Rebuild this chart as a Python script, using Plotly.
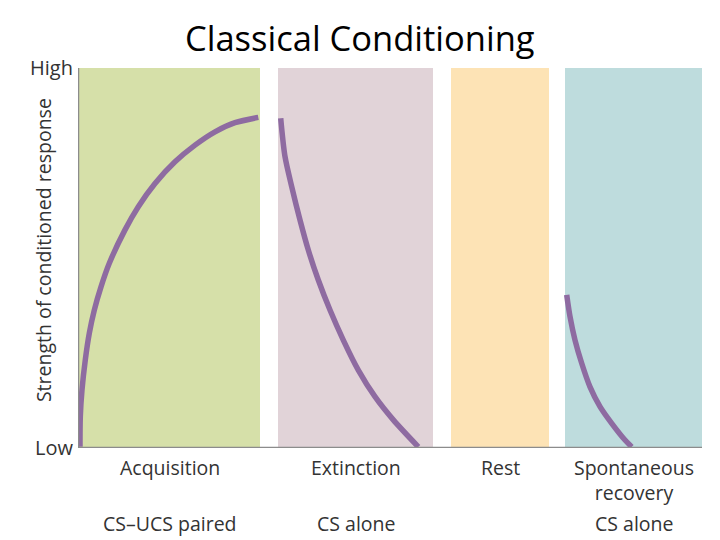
import plotly.graph_objects as go

# ---- data ----
phase_names = ["Acquisition", "Extinction", "Rest", "Spontaneous<br>recovery"]
phase_conditions = ["CS–UCS paired", "CS alone", "", "CS alone"]
phase_start = [1, 200, 373, 487]
phase_end = [182, 355, 471, 624]
phase_colors = ["#d6e0a9", "#e1d3d8", "#fde3b5", "#bedcdd"]

acq_x = [2, 2.3, 4, 7.3, 11.3, 16.3, 23, 31.3, 47, 60.3, 77, 97, 117, 137, 157, 180.3]
acq_y = [0.3, 8.2, 15.3, 23.2, 30.2, 36.3, 42.4, 48.6, 57.4, 63.5, 69.6, 75.3, 79.7, 83.2, 85.6, 87.0]

ext_x = [202.7, 207, 213.7, 222, 230.3, 240.3, 252, 265.3, 280.3, 297, 315.3, 340.3]
ext_y = [86.8, 76.7, 68.8, 60.0, 52.1, 44.2, 36.3, 28.4, 20.5, 13.5, 7.4, 0.3]

rec_x = [488.7, 492, 497, 503.7, 512, 522, 533.7, 547, 553.7]
rec_y = [40.3, 34.6, 28.4, 22.3, 16.1, 10.9, 6.5, 2.1, 0.3]

y_ticks = [0, 100]
y_ticktext = ["Low", "High"]

line_color = "#8e6ba1"
txt_font = "Open Sans, Lato, sans-serif"
txt_color = "#333333"

fig = go.Figure()

shapes = []
for s, e, c in zip(phase_start, phase_end, phase_colors):
    shapes.append(dict(type="rect", xref="x", yref="y", x0=s, x1=e, y0=0, y1=100,
                       fillcolor=c, line=dict(width=0), layer="below"))
# axis lines
shapes.append(dict(type="line", xref="x", yref="y", x0=0, x1=624, y0=0, y1=0,
                   line=dict(color="#8c8c8c", width=2.5)))
shapes.append(dict(type="line", xref="x", yref="y", x0=0, x1=0, y0=0, y1=100,
                   line=dict(color="#8c8c8c", width=2.5)))

for xs, ys in [(acq_x, acq_y), (ext_x, ext_y), (rec_x, rec_y)]:
    fig.add_trace(go.Scatter(x=xs, y=ys, mode="lines",
                             line=dict(color=line_color, width=5.5, shape="spline", smoothing=0.8),
                             hoverinfo="skip", showlegend=False, cliponaxis=False))

annotations = []
for s, e, n, c in zip(phase_start, phase_end, phase_names, phase_conditions):
    cx = (s + e) / 2
    annotations.append(dict(x=cx, xref="x", y=0, yref="y", yanchor="top", yshift=-4,
                            text=n, showarrow=False,
                            font=dict(family=txt_font, size=19.5, color=txt_color)))
    if c:
        annotations.append(dict(x=cx, xref="x", y=0, yref="y", yanchor="top", yshift=-60,
                                text=c, showarrow=False,
                                font=dict(family=txt_font, size=19.5, color=txt_color)))

annotations.append(dict(x=-0.056, xref="paper", y=0.521, yref="paper",
                        text="Strength of conditioned response",
                        textangle=-90, showarrow=False,
                        xanchor="center", yanchor="middle",
                        font=dict(family=txt_font, size=19.5, color=txt_color)))
annotations.append(dict(x=0.452, xref="paper", y=1, yref="paper", yanchor="middle", yshift=31,
                        text="Classical Conditioning", showarrow=False,
                        font=dict(family=txt_font, size=34.5, color="#000000")))

fig.update_layout(
    width=712, height=532,
    margin=dict(l=70, r=18, t=60, b=92),
    paper_bgcolor="white", plot_bgcolor="white",
    shapes=shapes, annotations=annotations,
    xaxis=dict(range=[0, 624], showgrid=False, zeroline=False, showticklabels=False,
               showline=False, ticks=""),
    yaxis=dict(range=[0, 100], showgrid=False, zeroline=False, tickvals=y_ticks,
               ticktext=y_ticktext, ticks="", showline=False, ticklabelstandoff=4,
               tickfont=dict(family=txt_font, size=20, color=txt_color)),
)

fig.write_html("out.html")
